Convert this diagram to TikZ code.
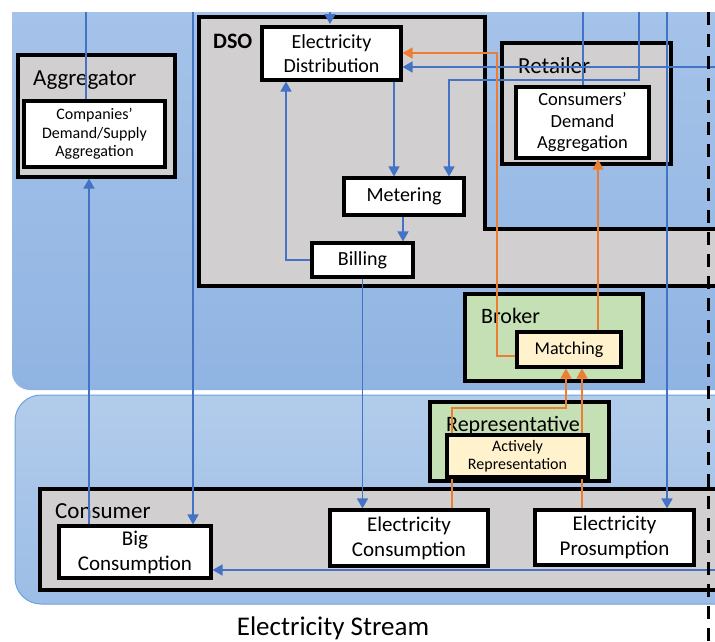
\documentclass[tikz,border=0pt]{standalone}
\usepackage{fontspec}
\setmainfont{Carlito}
\usetikzlibrary{arrows.meta}
\definecolor{panelAtop}{HTML}{A8C5EA}
\definecolor{panelAbot}{HTML}{90B4E2}
\definecolor{panelBtop}{HTML}{B2CCEB}
\definecolor{panelBbot}{HTML}{9CBDE6}
\definecolor{panelBline}{HTML}{6FA2DA}
\definecolor{boxgray}{HTML}{D1CFCF}
\definecolor{boxgreen}{HTML}{C5E0B4}
\definecolor{boxyellow}{HTML}{FFF2CC}
\definecolor{lnblue}{HTML}{4472C4}
\definecolor{lnorange}{HTML}{ED7D31}
\pgfdeclarelayer{bottom}
\pgfdeclarelayer{back}
\pgfdeclarelayer{mid}
\pgfdeclarelayer{front}
\pgfsetlayers{bottom,back,mid,main,front}
\tikzset{
  grp/.style={draw=black, line width=3.1pt, fill=boxgray, inner sep=0pt},
  grpgreen/.style={grp, fill=boxgreen},
  inbox/.style={draw=black, line width=3.1pt, fill=white, align=center, inner sep=0pt,
     font=\fontsize{20}{24}\selectfont},
  inyellow/.style={inbox, fill=boxyellow},
  glabel/.style={anchor=base west, inner sep=0pt, font=\fontsize{23}{27}\selectfont},
  barr/.style={draw=lnblue, line width=1.4pt, -{Triangle[length=10pt,width=11pt]}},
  bln/.style={draw=lnblue, line width=1.4pt},
  oarr/.style={draw=lnorange, line width=1.5pt, -{Triangle[length=10pt,width=11pt]}},
  sepline/.style={draw=black, line width=3pt, dash pattern=on 13pt off 9pt}
}
\begin{document}
\begin{tikzpicture}[x=1pt,y=-1pt]
\useasboundingbox (0,0) rectangle (715,641);
\clip (0,0) rectangle (715,641);

% ---- coordinates (free ends and routing x/y values)
\coordinate (t86) at (86,12);
\coordinate (t193) at (193,12);
\coordinate (t330) at (330,12);
\coordinate (dsotop) at (330,24);
\coordinate (t583) at (583,12);
\coordinate (t639) at (639,12);
\coordinate (t667) at (667,12);
\coordinate (r67) at (716,67);
\coordinate (r570) at (716,570);
\coordinate (x89) at (89,0);
\coordinate (x286) at (286,0);
\coordinate (x394) at (394,0);
\coordinate (x403) at (403,0);
\coordinate (x449) at (449,0);
\coordinate (x452) at (452,0);
\coordinate (x497) at (497,0);
\coordinate (x566) at (566,0);
\coordinate (x582) at (582,0);
\coordinate (x598) at (598,0);
\coordinate (y53) at (0,53);
\coordinate (y80) at (0,80);
\coordinate (y260) at (0,260);
\coordinate (y356) at (0,356);
\coordinate (y408) at (0,408);
\coordinate (dtop) at (708,12);
\coordinate (dbot) at (708,641);

\begin{pgfonlayer}{bottom}
  \fill[white] (0,0) rectangle (715,641);
  % panels
  \begin{scope}
    \clip (0,12) rectangle (715,641);
    \path[top color=panelAtop, bottom color=panelAbot, rounded corners=18pt]
      (12,-40) rectangle (760,390);
  \end{scope}
  \path[top color=panelBtop, bottom color=panelBbot, draw=panelBline, line width=1pt,
        rounded corners=26pt] (15,395) rectangle (760,604);
\end{pgfonlayer}

\begin{pgfonlayer}{back}
  % group boxes
  \node[grp, minimum width=157pt, minimum height=122pt] (agg) at (96.5,116) {};
  \node[glabel] (agglbl) at (33,85) {Aggregator};

  \draw[grp] (199,17) -- (485,17) -- (485,229) -- (730,229) -- (730,286) -- (199,286) -- cycle;
  \node[anchor=base west, inner sep=0pt, font=\fontsize{22}{26}\selectfont\bfseries] (dsolbl) at (213,48) {DSO};

  \node[grp, minimum width=169pt, minimum height=121pt] (ret) at (586.5,103.5) {};
  \node[glabel] (retlbl) at (518,73) {Retailer};

  \node[grpgreen, minimum width=178pt, minimum height=87pt] (bro) at (554,337.5) {};
  \node[glabel, font=\fontsize{22}{26}\selectfont] (brolbl) at (481,323) {Broker};

  \node[grpgreen, minimum width=179pt, minimum height=79pt] (rep) at (519.5,441.5) {};
  \node[glabel, font=\fontsize{22}{26}\selectfont] (replbl) at (446,431) {Representative};

  \node[grp, minimum width=690pt, minimum height=101pt] (con) at (385,539.5) {};
  \node[glabel] (conlbl) at (55,518) {Consumer};
\end{pgfonlayer}

% inner boxes
\node[inbox, minimum width=141pt, minimum height=66pt, font=\fontsize{16}{18.5}\selectfont] (aggin) at (94.5,134) {Companies’\\Demand/Supply\\Aggregation};
\node[inbox, minimum width=139pt, minimum height=53pt] (ed) at (331.5,53.5) {Electricity\\Distribution};
\node[inbox, minimum width=120pt, minimum height=37pt] (met) at (404,196.5) {Metering};
\node[inbox, minimum width=101pt, minimum height=34pt] (bil) at (362.5,260) {Billing};
\node[inbox, minimum width=133pt, minimum height=71pt, font=\fontsize{18.5}{21.5}\selectfont] (cda) at (582.5,122.5) {Consumers’\\Demand\\Aggregation};
\node[inyellow, minimum width=104pt, minimum height=35pt, font=\fontsize{18}{21}\selectfont] (mat) at (569,349.5) {Matching};
\node[inyellow, minimum width=141pt, minimum height=42pt, font=\fontsize{16}{18.5}\selectfont] (act) at (517.5,456) {Actively\\Representation};
\node[inbox, minimum width=152pt, minimum height=52pt, font=\fontsize{21}{25}\selectfont] (big) at (135,552) {Big\\Consumption};
\node[inbox, minimum width=158pt, minimum height=56pt, font=\fontsize{21}{25}\selectfont] (ec) at (409,538) {Electricity\\Consumption};
\node[inbox, minimum width=159pt, minimum height=55pt, font=\fontsize{21}{25}\selectfont] (ep) at (614.5,537.5) {Electricity\\Prosumption};

% connectors
\begin{pgfonlayer}{mid}
  \draw[bln] (t86) -- (t86 |- aggin.north);
  \draw[barr] (big.north -| x89) -- (agg.south -| x89);
  \draw[barr] (t193) -- (t193 |- big.north);
  \draw[barr] (t330) -- (dsotop);
  \draw[bln] (t583) -- (t583 |- cda.north);
  \draw[barr] (t639) |- (y80 -| x449) -- (met.north -| x449);
  \draw[barr] (t667) -- (t667 |- ep.north);
  \draw[barr] (r67) -- (r67 -| ed.east);
  \draw[barr] (r570) -- (r570 -| big.east);
  \draw[barr] (ed.south -| x394) -- (met.north -| x394);
  \draw[barr] (met.south -| x403) -- (bil.north -| x403);
  \draw[barr] (bil.west |- y260) -| (ed.south -| x286);
  \draw[barr] (bil.south) -- (bil.south |- ec.north);
  \draw[oarr] (mat.west |- y356) -- (x497 |- y356) -- (x497 |- y53) -- (ed.east |- y53);
  \draw[oarr] (mat.north -| x598) -- (cda.south -| x598);
  \draw[oarr] (ec.north -| x452) |- (y408 -| x566) -- (mat.south -| x566);
  \draw[oarr] (ep.north -| x582) -- (mat.south -| x582);
\end{pgfonlayer}

\begin{pgfonlayer}{front}
  \draw[sepline] (dtop) -- (dbot);
\end{pgfonlayer}

\node[anchor=base, inner sep=0pt, font=\fontsize{27}{32}\selectfont] (title) at (333,635) {Electricity Stream};
\end{tikzpicture}
\end{document}
